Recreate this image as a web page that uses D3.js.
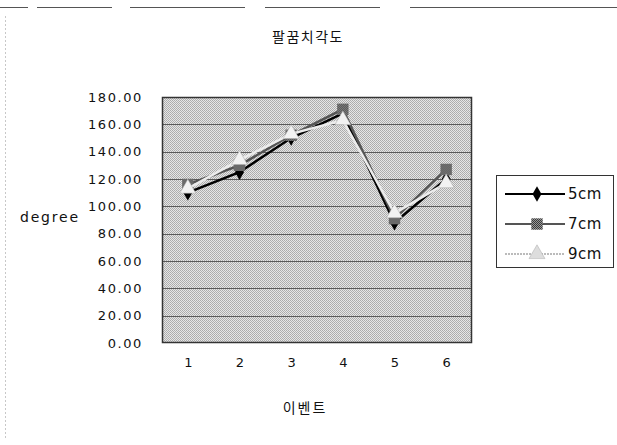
<!DOCTYPE html>
<html>
<head>
<meta charset="utf-8">
<script src="https://cdn.jsdelivr.net/npm/d3@7"></script>
<style>
  html, body { margin: 0; padding: 0; background: #fff; }
  svg { display: block; }
</style>
</head>
<body>
<div id="chart"></div>
<script>
// Elbow angle per event, for three distances
const events = ["1", "2", "3", "4", "5", "6"];
const seriesNames = ["5cm", "7cm", "9cm"];
const values5cm = [110, 125, 150, 168, 88, 120];
const values7cm = [116, 130, 152, 171, 91, 127];
const values9cm = [113, 134, 153, 163, 95, 117];
const yTicks = [0, 20, 40, 60, 80, 100, 120, 140, 160, 180];

const W = 617, H = 445;
const plot = { left: 162, right: 472, top: 97, bottom: 343 };
const numFont = "DejaVu Sans, Liberation Sans, sans-serif";
const krFont = "Noto Sans CJK KR, Noto Sans, sans-serif";

const svg = d3.select("#chart").append("svg")
  .attr("width", W).attr("height", H);

// Fine grey checker for the plot area
const defs = svg.append("defs");
const pat = defs.append("pattern")
  .attr("id", "dither").attr("patternUnits", "userSpaceOnUse")
  .attr("width", 2).attr("height", 2);
pat.append("rect").attr("width", 2).attr("height", 2).attr("fill", "#e6e6e6");
pat.append("rect").attr("width", 1).attr("height", 1).attr("fill", "#aaaaaa");
pat.append("rect").attr("x", 1).attr("y", 1).attr("width", 1).attr("height", 1).attr("fill", "#b0b0b0");

const pat2 = defs.append("pattern")
  .attr("id", "dither2").attr("patternUnits", "userSpaceOnUse")
  .attr("width", 2).attr("height", 2);
pat2.append("rect").attr("width", 2).attr("height", 2).attr("fill", "#3a3a3a");
pat2.append("rect").attr("width", 1).attr("height", 1).attr("fill", "#9a9a9a");
pat2.append("rect").attr("x", 1).attr("y", 1).attr("width", 1).attr("height", 1).attr("fill", "#9a9a9a");

// Chart-area frame remnants
svg.append("g").attr("stroke", "#555").attr("stroke-width", 1)
  .selectAll("line")
  .data([[0, 28], [37, 112], [130, 245], [265, 380], [410, 617]])
  .join("line")
  .attr("x1", d => d[0]).attr("x2", d => d[1])
  .attr("y1", 7.5).attr("y2", 7.5);
svg.append("line")
  .attr("x1", 5.5).attr("x2", 5.5).attr("y1", 16).attr("y2", 440)
  .attr("stroke", "#c8c8c8").attr("stroke-dasharray", "2,2");

const x = d3.scalePoint().domain(events)
  .range([plot.left, plot.right]).padding(0.5);
const y = d3.scaleLinear().domain([0, 180])
  .range([plot.bottom, plot.top]);

// Plot area
svg.append("rect")
  .attr("x", plot.left).attr("y", plot.top)
  .attr("width", plot.right - plot.left).attr("height", plot.bottom - plot.top)
  .attr("fill", "url(#dither)");

// Gridlines
svg.append("g")
  .selectAll("line")
  .data(yTicks.filter(t => t > 0 && t < 180))
  .join("line")
  .attr("x1", plot.left).attr("x2", plot.right)
  .attr("y1", d => Math.round(y(d)) + 0.5).attr("y2", d => Math.round(y(d)) + 0.5)
  .attr("stroke", "#5a5a5a").attr("stroke-width", 1);

svg.append("rect")
  .attr("x", plot.left + 0.5).attr("y", plot.top + 0.5)
  .attr("width", plot.right - plot.left - 1).attr("height", plot.bottom - plot.top - 1)
  .attr("fill", "none").attr("stroke", "#333").attr("stroke-width", 1.5);

// Y axis labels
const yAxis = d3.axisLeft(y).tickValues(yTicks)
  .tickFormat(d3.format(".2f")).tickSize(0).tickPadding(0);
const gy = svg.append("g").attr("transform", `translate(143,0)`).call(yAxis);
gy.select(".domain").remove();
gy.selectAll("text").attr("font-size", 13).attr("letter-spacing", 1.6)
  .attr("fill", "#111").attr("font-family", numFont);

// X axis labels
const xAxis = d3.axisBottom(x).tickSize(0).tickPadding(0);
const gx = svg.append("g").attr("transform", `translate(0,358)`).call(xAxis);
gx.select(".domain").remove();
gx.selectAll("text").attr("font-size", 13).attr("fill", "#111")
  .attr("font-family", numFont);

// Titles
svg.append("text").attr("font-family", krFont)
  .attr("x", 308).attr("y", 42).attr("text-anchor", "middle")
  .attr("font-size", 14).attr("letter-spacing", 1.5)
  .attr("fill", "#111").text("팔꿈치각도");
svg.append("text").attr("font-family", krFont)
  .attr("x", 305).attr("y", 413).attr("text-anchor", "middle")
  .attr("font-size", 14).attr("letter-spacing", 2)
  .attr("fill", "#111").text("이벤트");
svg.append("text").attr("font-family", numFont)
  .attr("x", 20).attr("y", 222).attr("letter-spacing", 1.8)
  .attr("font-size", 14).attr("fill", "#111").text("degree");

// Series styling
const styles = [
  { data: values5cm, stroke: "#000", marker: d3.symbolDiamond, fill: "#000", size: 70 },
  { data: values7cm, stroke: "#555", marker: d3.symbolSquare, fill: "url(#dither2)", size: 130 },
  { data: values9cm, stroke: "#ececec", marker: d3.symbolTriangle, fill: "#f2f2f2", size: 110 }
];

const line = d3.line().x((d, i) => x(events[i])).y(d => y(d));

styles.forEach(s => {
  svg.append("path").datum(s.data)
    .attr("d", line).attr("fill", "none")
    .attr("stroke", s.stroke).attr("stroke-width", 2.5);
  svg.append("g").selectAll("path")
    .data(s.data).join("path")
    .attr("transform", (d, i) => `translate(${x(events[i])},${y(d)})`)
    .attr("d", d3.symbol().type(s.marker).size(s.size))
    .attr("fill", s.fill)
    .attr("stroke", s.stroke === "#ececec" ? "#aaa" : "none")
    .attr("stroke-width", 0.5);
});

// Legend
const lg = svg.append("g");
lg.append("rect")
  .attr("x", 496.5).attr("y", 175.5).attr("width", 117).attr("height", 92)
  .attr("fill", "#fff").attr("stroke", "#333").attr("stroke-width", 1);
seriesNames.forEach((name, i) => {
  const s = styles[i];
  const yy = 194 + i * 30;
  lg.append("line").attr("x1", 505).attr("x2", 565).attr("y1", yy).attr("y2", yy)
    .attr("stroke", i === 2 ? "#bbb" : s.stroke).attr("stroke-width", 2)
    .attr("stroke-dasharray", i === 2 ? "2,1" : null);
  lg.append("path").attr("transform", `translate(537,${yy})`)
    .attr("d", d3.symbol().type(s.marker).size(s.size))
    .attr("fill", i === 2 ? "#ddd" : s.fill)
    .attr("stroke", i === 2 ? "#aaa" : "none").attr("stroke-width", 0.5);
  lg.append("text").attr("font-family", numFont)
    .attr("x", 568).attr("y", yy + 5).attr("letter-spacing", 0.5)
    .attr("font-size", 15).attr("fill", "#111").text(name);
});
</script>
</body>
</html>
